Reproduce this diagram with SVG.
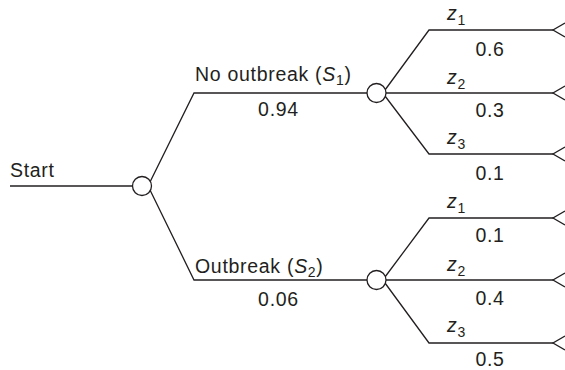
<svg xmlns="http://www.w3.org/2000/svg" width="565" height="370" viewBox="0 0 565 370">
  <style>
    .ln { fill: none; stroke: #231f20; stroke-width: 1.3; }
    .nd { fill: #ffffff; stroke: #231f20; stroke-width: 1.3; }
    .t { font-family: "Liberation Sans", Arial, sans-serif; font-size: 19.5px; letter-spacing: 0.7px; fill: #231f20; }
    .c { text-anchor: middle; }
    .sub { font-size: 14px; }
  </style>
  <defs>
    <path id="term" class="ln" d="M565,-7 L553,0 L565,7"/>
  </defs>

  <g id="connectors">
    <!-- start stem -->
    <path class="ln" d="M10,186 H132"/>
    <!-- first-stage branches -->
    <path class="ln" d="M150,182 L194,93 H367"/>
    <path class="ln" d="M150,190 L194,280 H367"/>
    <!-- upper chance branches -->
    <path class="ln" d="M385,90 L429,30 H553"/>
    <path class="ln" d="M386,93 H553"/>
    <path class="ln" d="M385,96 L429,154 H553"/>
    <!-- lower chance branches -->
    <path class="ln" d="M385,277 L429,218 H553"/>
    <path class="ln" d="M386,280 H553"/>
    <path class="ln" d="M385,283 L429,343 H553"/>
    <!-- terminal markers -->
    <use href="#term" y="30"/>
    <use href="#term" y="93"/>
    <use href="#term" y="154"/>
    <use href="#term" y="218"/>
    <use href="#term" y="280"/>
    <use href="#term" y="343"/>
  </g>

  <g id="start">
    <text class="t" x="10" y="177">Start</text>
  </g>
  <g id="node-root">
    <circle class="nd" cx="142" cy="186" r="9.5"/>
  </g>
  <g id="node-no-outbreak">
    <circle class="nd" cx="376.5" cy="93" r="9.5"/>
  </g>
  <g id="node-outbreak">
    <circle class="nd" cx="376.5" cy="280" r="9.5"/>
  </g>

  <g id="label-s1">
    <text class="t" x="195" y="81">No outbreak (<tspan font-style="italic">S</tspan><tspan class="sub" dy="4">1</tspan><tspan dy="-4">)</tspan></text>
    <text class="t c" x="278.5" y="116">0.94</text>
  </g>
  <g id="label-s2">
    <text class="t" x="195" y="273">Outbreak (<tspan font-style="italic">S</tspan><tspan class="sub" dy="4">2</tspan><tspan dy="-4">)</tspan></text>
    <text class="t c" x="278.5" y="306">0.06</text>
  </g>

  <g id="labels-upper">
    <text class="t" x="447" y="20"><tspan font-style="italic">z</tspan><tspan class="sub" dy="5">1</tspan></text>
    <text class="t c" x="490" y="56">0.6</text>
    <text class="t" x="447" y="84"><tspan font-style="italic">z</tspan><tspan class="sub" dy="5">2</tspan></text>
    <text class="t c" x="490" y="117">0.3</text>
    <text class="t" x="447" y="144"><tspan font-style="italic">z</tspan><tspan class="sub" dy="5">3</tspan></text>
    <text class="t c" x="490" y="180">0.1</text>
  </g>
  <g id="labels-lower">
    <text class="t" x="447" y="208"><tspan font-style="italic">z</tspan><tspan class="sub" dy="5">1</tspan></text>
    <text class="t c" x="490" y="242">0.1</text>
    <text class="t" x="447" y="271"><tspan font-style="italic">z</tspan><tspan class="sub" dy="5">2</tspan></text>
    <text class="t c" x="490" y="305">0.4</text>
    <text class="t" x="447" y="332"><tspan font-style="italic">z</tspan><tspan class="sub" dy="5">3</tspan></text>
    <text class="t c" x="490" y="366">0.5</text>
  </g>
</svg>
